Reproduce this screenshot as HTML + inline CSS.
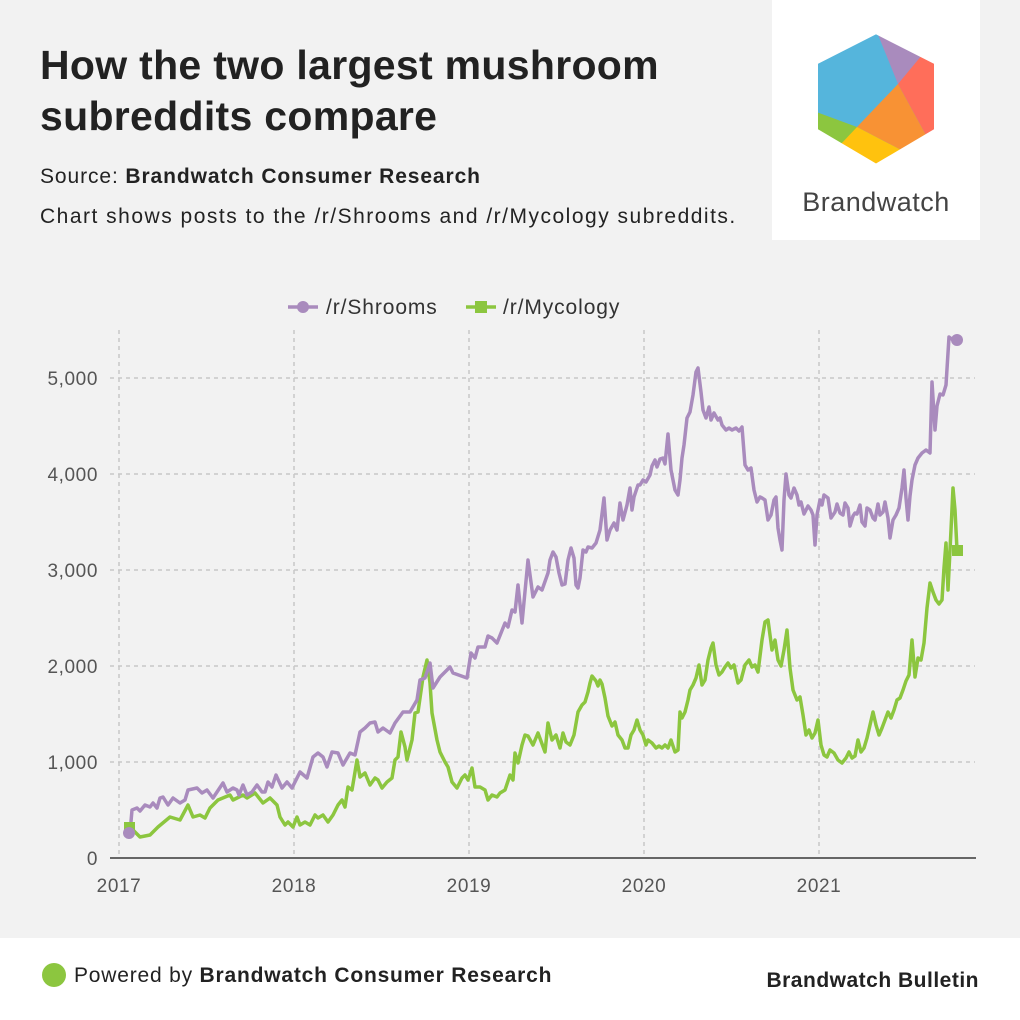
<!DOCTYPE html>
<html><head><meta charset="utf-8"><style>
body{margin:0;width:1020px;height:1020px;background:#f2f2f2;font-family:"Liberation Sans",sans-serif;position:relative;overflow:hidden}
.t{position:absolute;left:40px;top:40px;font-size:41px;line-height:51px;color:#222;font-weight:bold;letter-spacing:0.3px}
.s{position:absolute;left:40px;top:165px;font-size:21px;color:#222;letter-spacing:0.9px}
.c{position:absolute;left:40px;top:205px;font-size:21px;color:#222;letter-spacing:1.5px}
.logo{position:absolute;left:772px;top:0;width:208px;height:240px;background:#fff}
.foot{position:absolute;left:0;top:938px;width:1020px;height:82px;background:#fff}
</style></head><body>
<div class="t">How the two largest mushroom<br>subreddits compare</div>
<div class="s">Source: <b>Brandwatch Consumer Research</b></div>
<div class="c">Chart shows posts to the /r/Shrooms and /r/Mycology subreddits.</div>
<div class="logo"></div>
<div class="foot"></div>
<svg width="1020" height="1020" style="position:absolute;left:0;top:0">
<defs><clipPath id="hx"><polygon points="876,31 937,62 937,131 876,167 815,131 815,62"/></clipPath></defs>
<g clip-path="url(#hx)">
<rect x="800" y="20" width="150" height="160" fill="#55b5dc"/>
<polygon points="872,20 950,20 950,55 898,84" fill="#a98bbd"/>
<polygon points="922,55 950,40 950,150 927,137 898,84" fill="#ff6e5a"/>
<polygon points="898,84 927,137 905,152 857,127" fill="#f89234"/>
<polygon points="800,106 857,127 840,150 800,150" fill="#8cc63f"/>
<polygon points="857,127 905,152 880,180 835,155 840,145" fill="#ffc20e"/>
</g>
<polygon points="876,31 937,62 937,131 876,167 815,131 815,62" fill="none" stroke="#fff" stroke-width="6" stroke-linejoin="round"/>
<text x="876" y="211" text-anchor="middle" font-size="27" fill="#444" letter-spacing="0.5">Brandwatch</text>
<g stroke="#c8c8c8" stroke-width="1.5" stroke-dasharray="4,4">
<line x1="110" y1="378" x2="975" y2="378"/><line x1="110" y1="474" x2="975" y2="474"/><line x1="110" y1="570" x2="975" y2="570"/><line x1="110" y1="666" x2="975" y2="666"/><line x1="110" y1="762" x2="975" y2="762"/>
<line x1="119" y1="330" x2="119" y2="857"/><line x1="294" y1="330" x2="294" y2="857"/><line x1="469" y1="330" x2="469" y2="857"/><line x1="644" y1="330" x2="644" y2="857"/><line x1="819" y1="330" x2="819" y2="857"/>
</g>
<line x1="110" y1="858" x2="976" y2="858" stroke="#666" stroke-width="2"/>
<g font-size="19" fill="#555" text-anchor="end" letter-spacing="0.6">
<text x="98" y="385">5,000</text><text x="98" y="481">4,000</text><text x="98" y="577">3,000</text><text x="98" y="673">2,000</text><text x="98" y="769">1,000</text><text x="98" y="865">0</text>
</g>
<g font-size="19" fill="#555" text-anchor="middle" letter-spacing="0.6">
<text x="119" y="892">2017</text><text x="294" y="892">2018</text><text x="469" y="892">2019</text><text x="644" y="892">2020</text><text x="819" y="892">2021</text>
</g>
<polyline fill="none" stroke="#8cc63f" stroke-width="3.5" stroke-linejoin="round" points="130,827 140,837 150,835 158,827 170,817 180,820 188,805 193,817 200,815 205,818 210,808 218,800 230,795 233,800 243,795 247,798 255,793 263,803 270,798 277,805 280,817 285,825 288,822 293,827 297,817 300,825 305,822 310,825 315,815 318,818 323,815 328,822 333,815 338,805 342,800 345,807 348,787 352,790 357,760 360,777 365,773 370,785 375,778 378,780 382,788 387,782 392,778 395,760 398,757 401,732 405,747 407,760 412,740 415,713 418,712 423,677 427,660 430,683 432,713 437,740 440,752 445,762 448,767 452,782 457,788 462,778 465,775 468,780 472,768 475,787 480,787 485,790 488,800 492,795 497,797 500,793 505,790 510,775 513,780 515,753 518,763 522,745 525,735 528,736 533,745 538,733 545,752 548,723 552,740 556,735 560,748 563,733 566,742 570,745 574,735 578,712 582,705 585,702 588,692 590,683 592,676 596,681 598,686 600,680 602,684 605,698 608,716 612,726 615,722 618,735 622,740 625,748 628,748 631,735 634,730 637,720 640,730 643,735 646,745 648,740 652,743 656,748 659,746 662,748 665,745 668,748 671,740 675,752 678,750 680,712 682,718 685,712 688,700 690,690 693,685 696,678 699,665 702,685 705,680 708,660 711,648 713,643 716,665 719,675 722,672 725,667 728,663 731,668 734,665 738,683 741,680 745,665 749,660 752,667 755,665 758,672 762,640 765,622 768,620 772,650 775,640 778,660 781,666 784,650 787,630 790,668 793,690 797,700 800,697 803,715 806,735 809,730 812,738 815,733 818,720 821,745 824,755 827,757 830,750 834,753 838,760 842,763 846,758 849,752 852,758 855,756 858,740 861,752 864,748 867,738 870,725 873,712 876,725 879,735 882,728 885,720 888,712 891,718 894,710 897,700 900,698 903,690 906,681 909,675 912,640 915,677 918,658 921,660 924,643 927,608 930,583 933,592 936,600 939,604 942,600 944,568 946,543 948,590 951,530 953,488 955,510 957,550 960,550"/>
<polyline fill="none" stroke="#a98bbd" stroke-width="3.5" stroke-linejoin="round" points="130,833 132,810 137,808 140,811 145,805 150,807 153,803 157,808 160,798 163,797 168,805 173,798 180,803 185,800 188,790 197,788 202,793 207,790 213,798 223,783 227,792 233,788 237,790 239,795 243,785 247,795 252,792 257,785 262,792 265,792 268,782 272,787 276,775 282,788 287,782 292,788 300,772 307,778 313,757 318,753 323,757 327,767 332,752 338,753 343,765 350,753 355,755 360,732 365,728 370,723 375,722 378,732 383,728 390,733 395,723 403,712 410,712 417,700 420,680 425,678 430,663 433,688 440,677 450,667 453,673 467,678 471,653 475,658 478,647 485,647 488,636 492,638 497,643 505,623 508,627 512,610 515,612 518,585 522,623 528,560 533,597 538,587 542,590 548,573 550,560 553,552 556,557 559,573 562,585 565,584 568,560 571,548 574,558 576,585 578,588 580,578 583,550 586,552 588,547 592,548 596,543 600,530 604,498 607,540 610,530 614,523 617,530 620,503 623,520 627,505 630,488 632,510 634,497 638,485 640,485 643,480 646,482 650,475 652,466 655,460 657,467 660,459 663,458 665,464 668,434 671,470 675,490 678,495 680,480 682,458 684,445 687,418 690,412 693,395 696,372 698,368 701,392 703,410 706,418 709,407 711,420 714,413 718,420 720,418 722,425 726,430 729,428 732,430 736,428 739,431 742,427 745,465 748,470 751,468 754,490 757,502 760,497 762,498 765,500 768,520 771,515 774,500 776,497 778,528 780,540 782,550 784,500 786,474 789,495 791,498 794,488 797,495 799,505 801,502 804,514 808,506 811,510 813,515 815,545 817,515 820,500 822,505 824,495 828,498 831,518 835,512 837,504 840,513 843,515 845,503 848,508 850,526 853,516 855,513 857,514 860,505 862,522 865,526 867,508 870,510 873,518 875,520 878,504 880,515 883,512 885,502 888,518 890,538 893,520 896,515 899,508 902,488 904,470 906,498 908,520 910,496 912,480 915,465 918,458 922,453 926,450 930,453 932,382 935,430 937,406 940,394 943,395 946,385 949,337 953,340 957,340"/>
<rect x="124" y="822" width="11" height="11" fill="#8cc63f"/>
<circle cx="129" cy="833" r="6" fill="#a98bbd"/>
<rect x="952" y="545" width="11" height="11" fill="#8cc63f"/>
<circle cx="957" cy="340" r="6" fill="#a98bbd"/>
<line x1="288" y1="307" x2="318" y2="307" stroke="#a98bbd" stroke-width="3.5"/><circle cx="303" cy="307" r="6" fill="#a98bbd"/>
<text x="326" y="314" font-size="21" fill="#333" letter-spacing="0.9">/r/Shrooms</text>
<line x1="466" y1="307" x2="496" y2="307" stroke="#8cc63f" stroke-width="3.5"/><rect x="475" y="301" width="12" height="12" fill="#8cc63f"/>
<text x="503" y="314" font-size="21" fill="#333" letter-spacing="0.9">/r/Mycology</text>
<circle cx="54" cy="975" r="12" fill="#8cc63f"/>
<text x="74" y="982" font-size="21" fill="#222" letter-spacing="0.8">Powered by <tspan font-weight="bold">Brandwatch Consumer Research</tspan></text>
<text x="979" y="987" font-size="21" font-weight="bold" fill="#222" text-anchor="end" letter-spacing="0.5">Brandwatch Bulletin</text>
</svg>
</body></html>
